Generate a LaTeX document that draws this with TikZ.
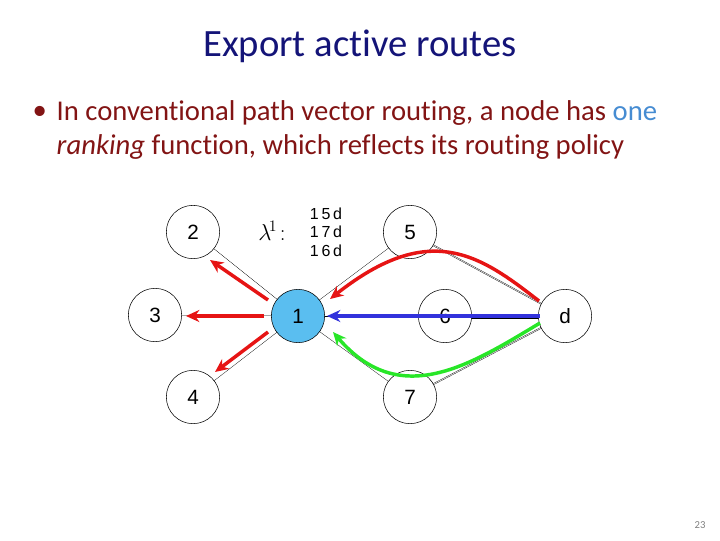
\documentclass[tikz,border=0pt]{standalone}
\usepackage{fontspec}
\setmainfont[Ligatures=NoCommon]{Carlito}
\newfontfamily\arial{Liberation Sans}
\usetikzlibrary{arrows.meta}
\definecolor{ttl}{RGB}{20,20,120}
\definecolor{txt}{RGB}{130,20,20}
\definecolor{hl}{RGB}{70,140,210}
\definecolor{nodeblue}{RGB}{90,190,240}
\definecolor{ar}{RGB}{230,20,20}
\definecolor{ab}{RGB}{50,50,220}
\definecolor{ag}{RGB}{40,230,40}
\begin{document}
\begin{tikzpicture}[x=0.75pt,y=-0.75pt,
  nd/.style={circle,draw,thin,minimum size=40pt,inner sep=0pt,font=\arial\fontsize{15.5}{15}\selectfont,fill=white},
  ed/.style={draw,very thin},
  redar/.style={draw=ar,line width=2.6pt,-{Stealth[length=10pt,width=9pt]}}]
\useasboundingbox (0,0) rectangle (720,540);
\node[text=ttl,font=\fontsize{29}{32}\selectfont] (title) at (360,46) {Export active routes};
\node[anchor=west,text=txt,font=\fontsize{21.5}{24}\selectfont] (bul) at (28,113) {\textbullet};
\node[anchor=west,text=txt,font=\fontsize{21.5}{24}\selectfont] (b) at (52,113) {In conventional path vector routing, a node has \textcolor{hl}{one}};
\node[anchor=west,text=txt,font=\fontsize{21.5}{24}\selectfont] (b2) at (52,147) {\textit{ranking} function, which reflects its routing policy};
\node[text=gray,font=\fontsize{8}{8}\selectfont] (pg) at (700,525) {23};
\coordinate (c2) at (193,232);\coordinate (c3) at (155,315);\coordinate (c4) at (193,397);
\coordinate (c1) at (298,316);\coordinate (c5) at (410,232);\coordinate (c6) at (445,316);
\coordinate (cd) at (565,316);\coordinate (c7) at (410,397);
\draw[ed] (c1)--(c2); \draw[ed] (c1)--(c3); \draw[ed] (c1)--(c4);
\draw[ed] (c1)--(c5); \draw[ed] (c1)--(c7);
\draw[ed] (c1)--(c6); \draw[ed] ([yshift=-1.5]c6)--([yshift=-1.5]cd); \draw[ed] ([yshift=1.5]c6)--([yshift=1.5]cd);
\draw[ed] (c5)--(cd); \draw[ed] ([xshift=1,yshift=-1.5]c5)--([xshift=1,yshift=-1.5]cd);
\draw[ed] (c7)--(cd); \draw[ed] ([xshift=1,yshift=1.5]c7)--([xshift=1,yshift=1.5]cd);
\node[nd] (n2) at (c2) {2};
\node[nd] (n3) at (c3) {3};
\node[nd] (n4) at (c4) {4};
\node[nd] (n5) at (c5) {5};
\node[nd] (n7) at (c7) {7};
\node[nd,fill=nodeblue] (n1) at (c1) {1};
\node[nd] (n6) at (c6) {6};
\node[nd] (nd) at (cd) {d};
\node[font=\fontsize{18}{18}\selectfont,inner sep=0pt] (lam) at (272,231) {$\lambda^{\!1}\!:$};
\node[font=\arial\fontsize{12}{12}\selectfont,align=left,inner sep=0pt] (list) at (326,232) {1\,5\,d\\[2pt]1\,7\,d\\[2pt]1\,6\,d};
\coordinate (s2) at (268,300);\coordinate (t2) at (210,260);
\coordinate (s3) at (264,316);\coordinate (t3) at (186,316);
\coordinate (s4) at (268,332);\coordinate (t4) at (215,372);
\draw[redar] (s2)--(t2);
\draw[redar] (s3)--(t3);
\draw[redar] (s4)--(t4);
\coordinate (rd) at (539,301);\coordinate (r1) at (330,299);
\draw[redar] (rd) .. controls (480,255) and (430,220) .. (r1);
\coordinate (bd) at (540,316);\coordinate (b1) at (327,316);
\draw[draw=ab,line width=2.6pt,-{Stealth[length=10pt,width=9pt]}] (bd)--(b1);
\coordinate (gd) at (540,323);\coordinate (g1) at (333,332);
\draw[draw=ag,line width=2.6pt,-{Stealth[length=10pt,width=9pt]}] (gd) .. controls (470,365) and (400,410) .. (g1);
\end{tikzpicture}
\end{document}
